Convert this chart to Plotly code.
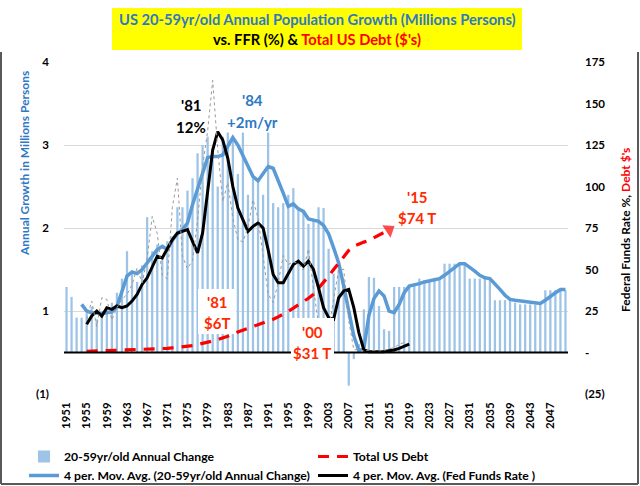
import plotly.graph_objects as go

# ---------------- data ----------------
years = list(range(1951, 2051))

# 20-59yr/old annual change (millions, in the left-axis label units)
pop_change = [
    1.29, 1.17, 0.92, 0.92, 0.98, 1.05, 0.90, 0.95, 1.02, 1.10,   # 1951-1960
    1.22, 1.39, 1.72, 1.45, 1.35, 1.55, 2.13, 1.72, 1.80, 1.65,   # 1961-1970
    1.84, 1.90, 2.25, 2.25, 2.45, 2.60, 2.90, 3.00, 3.10, 2.95,   # 1971-1980
    2.50, 3.10, 3.15, 3.10, 2.65, 3.15, 2.40, 2.60, 2.60, 2.40,   # 1981-1990
    3.15, 2.30, 2.25, 2.30, 2.40, 2.48, 2.25, 2.20, 2.05, 2.10,   # 1991-2000
    2.25, 2.24, 1.75, 1.45, 1.50, 1.30, 0.10, 0.42, 0.60, 1.02,   # 2001-2010
    1.41, 1.40, 1.06, 0.78, 0.76, 1.29, 1.29, 1.29, 1.29, 1.30,   # 2011-2020
    1.39, 1.37, 1.37, 1.40, 1.40, 1.57, 1.57, 1.57, 1.57, 1.57,   # 2021-2030
    1.39, 1.39, 1.39, 1.39, 1.39, 1.13, 1.13, 1.13, 1.13, 1.10,   # 2031-2040
    1.08, 1.08, 1.08, 1.08, 1.08, 1.25, 1.25, 1.25, 1.25, 1.25,   # 2041-2050
]

# 4 per. moving average of the annual change
ma_years = list(range(1954, 2051))
pop_ma = [
    1.08, 1.00, 0.98, 0.97, 0.97, 0.98, 0.99,                     # 1954-1960
    1.05, 1.25, 1.42, 1.47, 1.45, 1.50, 1.58, 1.66, 1.74, 1.78,   # 1961-1970
    1.74, 1.85, 1.93, 1.98, 2.06, 2.28, 2.48, 2.68, 2.85, 2.86,   # 1971-1980
    2.86, 2.88, 2.98, 3.09, 3.00, 2.88, 2.76, 2.62, 2.57, 2.66,   # 1981-1990
    2.74, 2.72, 2.58, 2.42, 2.26, 2.29, 2.23, 2.20, 2.11, 2.09,   # 1991-2000
    2.08, 2.03, 1.93, 1.76, 1.58, 1.30, 0.98, 0.70, 0.52, 0.55,   # 2001-2010
    0.95, 1.15, 1.24, 1.18, 1.00, 0.98, 1.08, 1.22, 1.30, 1.31,   # 2011-2020
    1.33, 1.35, 1.36, 1.38, 1.39, 1.43, 1.48, 1.53, 1.57, 1.57,   # 2021-2030
    1.53, 1.48, 1.43, 1.40, 1.39, 1.33, 1.26, 1.19, 1.14, 1.13,   # 2031-2040
    1.12, 1.11, 1.10, 1.09, 1.09, 1.13, 1.18, 1.22, 1.26, 1.26,   # 2041-2050
]

# Fed funds rate (x10, right axis) - thin grey line
ffr_years = list(range(1955, 2019))
ffr = [
    20, 31, 15.7, 33, 32, 19.5,                                   # 1955-1960
    27, 32, 35, 40.7, 51, 42, 56.6, 82, 71.7, 46.7,               # 1961-1970
    44.4, 87.4, 105, 58, 50.5, 55.4, 79.4, 112, 133.5, 163.9,     # 1971-1980
    122.4, 90.9, 102.3, 81, 68, 66.6, 75.7, 92.1, 81, 56.9,       # 1981-1990
    35.2, 30.2, 42, 58.4, 53, 54.6, 53.5, 49.7, 62.4, 38.8,       # 1991-2000
    16.7, 11.3, 13.5, 32.2, 49.7, 50.2, 19.2, 1.6, 1.8, 1.0,      # 2001-2010
    1.4, 1.1, 0.9, 1.3, 2.0, 3.0, 5.0, 6.0,                       # 2011-2018
]

# 4 per. moving average of the fed funds rate (black line)
ffr_ma_years = list(range(1955, 2020))
ffr_ma = [
    17, 22, 25, 22, 27, 26,                                       # 1955-1960
    28, 27, 28, 31, 35, 41, 45, 52, 58, 57,                       # 1961-1970
    63, 68, 72, 73, 74, 67, 60, 72, 96, 122,                      # 1971-1980
    133, 128, 117, 100, 87, 80, 73, 76, 78, 75,                   # 1981-1990
    62, 47, 42, 42, 48, 53, 55, 52, 55, 50,                       # 1991-2000
    39, 27, 21, 20, 33, 37, 38, 27, 12, 1.5,                      # 2001-2010
    0.5, 0.5, 0.5, 0.5, 1.0, 1.5, 2.5, 3.8, 5.0,                  # 2011-2019
]

# Total US debt ($ trillions, right axis)
debt_years = list(range(1955, 2016))
debt = [
    0.7, 0.8, 0.85, 0.9, 1.0, 1.05,                               # 1955-1960
    1.1, 1.2, 1.3, 1.4, 1.5, 1.6, 1.7, 1.9, 2.1, 2.3,             # 1961-1970
    2.5, 2.8, 3.1, 3.4, 3.8, 4.2, 4.8, 5.4, 6.1, 6.9,             # 1971-1980
    7.8, 8.7, 9.8, 11.2, 12.5, 13.6, 14.6, 15.6, 16.6, 17.7,      # 1981-1990
    18.8, 20.0, 21.5, 23.0, 24.8, 26.7, 28.6, 30.6, 32.7, 35.0,   # 1991-2000
    38.5, 42.0, 46.0, 50.0, 54.0, 58.0, 61.5, 64.0, 65.5, 66.5,   # 2001-2010
    67.5, 69.0, 70.5, 72.0, 74.0,                                 # 2011-2015
]

x_ticks = list(range(1951, 2048, 4))
left_ticks = [0, 1, 2, 3, 4]
left_tick_text = ["(1)", "1", "2", "3", "4"]
right_ticks = [-25, 0, 25, 50, 75, 100, 125, 150, 175]
right_tick_text = ["(25)", "-", "25", "50", "75", "100", "125", "150", "175"]

# ---------------- figure ----------------
W, H = 640, 486
ML, MR, MT, MB = 64, 72, 62, 92
PW, PH = W - ML - MR, H - MT - MB
FONT = "Lato, 'Open Sans', sans-serif"
BLUE_TXT = "#2F79C4"
RED_TXT = "#FF2A00"
BASE = 0.5  # left-axis value of the category axis line


def px(xf):
    return (xf - ML) / PW


def py(yf):
    return (H - MB - yf) / PH


fig = go.Figure()

fig.add_trace(go.Bar(
    x=years, y=[v - BASE for v in pop_change], base=BASE,
    width=0.45, marker=dict(color="#9DC3E6", line=dict(width=0)),
    name="20-59yr/old Annual Change", yaxis="y", legend="legend",
    hoverinfo="skip",
))

fig.add_trace(go.Scatter(
    x=ma_years, y=pop_ma, mode="lines", yaxis="y", legend="legend",
    line=dict(color="#5B9BD5", width=3.5),
    name="4 per. Mov. Avg. (20-59yr/old Annual Change)",
))

fig.add_trace(go.Scatter(
    x=debt_years, y=debt, mode="lines", yaxis="y2", legend="legend2",
    line=dict(color="#FF0000", width=3.2, dash="11px,8px"),
    name="Total US Debt",
))

fig.add_trace(go.Scatter(
    x=ffr_ma_years, y=ffr_ma, mode="lines", yaxis="y2", legend="legend2",
    line=dict(color="#000000", width=3),
    name="4 per. Mov. Avg. (Fed Funds Rate )",
))

fig.add_trace(go.Scatter(
    x=ffr_years, y=ffr, mode="lines", yaxis="y2",
    line=dict(color="#9A9A9A", width=1, dash="dot"),
    name="Fed Funds Rate", showlegend=False,
))

# arrow head at the end of the debt line
fig.add_trace(go.Scatter(
    x=debt_years[-2:], y=debt[-2:], mode="markers", yaxis="y2",
    marker=dict(symbol="triangle-up", size=[0, 13], color="#FF0000",
                angleref="previous", line=dict(width=0)),
    showlegend=False, hoverinfo="skip",
))

shapes = []
# category axis line (at 0 on the right axis)
shapes.append(dict(type="line", xref="paper", yref="y2", x0=0, x1=1, y0=0, y1=0,
                   line=dict(color="black", width=2), layer="above"))
# white label boxes
shapes.append(dict(type="rect", xref="paper", yref="paper",
                   x0=px(198), x1=px(236), y0=py(334), y1=py(289),
                   fillcolor="white", line=dict(width=0), layer="above"))
shapes.append(dict(type="rect", xref="paper", yref="paper",
                   x0=px(291), x1=px(334), y0=py(363), y1=py(318),
                   fillcolor="white", line=dict(width=0), layer="above"))
# title box
shapes.append(dict(type="rect", xref="paper", yref="paper",
                   x0=px(112), x1=px(522), y0=py(50), y1=py(8),
                   fillcolor="#FFFF00", line=dict(width=0), layer="above"))
# chart frame
for (x0, y0, x1, y1) in [(1, 52, 1, 484), (638, 52, 638, 484), (1, 484, 638, 484)]:
    shapes.append(dict(type="line", xref="paper", yref="paper",
                       x0=px(x0), x1=px(x1), y0=py(y0), y1=py(y1),
                       line=dict(color="#595959", width=2), layer="above"))

annotations = []


def note(text, xf, yf, color, size=15, **kw):
    annotations.append(dict(text=text, xref="paper", yref="paper", x=px(xf), y=py(yf),
                            showarrow=False, xanchor="center", yanchor="middle",
                            font=dict(family=FONT, size=size, color=color, weight="bold"), **kw))


note("US 20-59yr/old Annual Population Growth (Millions Persons)", 317, 19, BLUE_TXT, size=14.7)
note("vs. FFR (%) &amp; <span style='color:#FF0000'>Total US Debt ($'s)</span>", 317, 39, "black", size=14.7)

note("'81", 191, 105, "black")
note("12%", 191, 127, "black")
note("'84", 252, 100, BLUE_TXT)
note("+2m/yr", 252, 122, BLUE_TXT)
note("'81", 217, 302, RED_TXT)
note("$6T", 217, 323, RED_TXT)
note("'00", 312, 332, RED_TXT)
note("$31 T", 312, 353, RED_TXT)
note("'15", 417, 197, RED_TXT)
note("$74 T", 417, 218, RED_TXT)

note("Annual Growth in Millions Persons", 24, 164, BLUE_TXT, size=12, textangle=-90)
note("Federal Funds Rate %, <span style='color:#FF0000'>Debt $'s</span>", 625, 230, "black",
     size=12, textangle=-90)

tickfont = dict(family=FONT, size=11.5, color="black", weight="bold")
legfont = dict(family=FONT, size=12.2, color="black", weight="bold")

fig.update_layout(
    width=W, height=H, autosize=False,
    margin=dict(l=ML, r=MR, t=MT, b=MB, pad=0, autoexpand=False),
    paper_bgcolor="white", plot_bgcolor="white",
    font=dict(family=FONT, color="black"),
    barmode="overlay",
    xaxis=dict(range=[1950.5, 2050.5], tickvals=x_ticks, ticktext=[str(t) for t in x_ticks],
               tickangle=-90, tickfont=tickfont, showgrid=False, zeroline=False,
               showline=False, ticks="", ticklabelstandoff=5, automargin=False),
    yaxis=dict(range=[0, 4], tickvals=left_ticks, ticktext=left_tick_text,
               tickfont=tickfont, showgrid=True, gridcolor="#D9D9D9", gridwidth=1,
               zeroline=False, showline=False, ticks="", ticklabelstandoff=14,
               automargin=False),
    yaxis2=dict(range=[-25, 175], tickvals=right_ticks, ticktext=right_tick_text,
                overlaying="y", side="right", tickfont=tickfont, showgrid=False,
                zeroline=False, showline=False, ticks="", ticklabelstandoff=16,
                automargin=False),
    legend=dict(orientation="v", x=px(24), y=py(442), xanchor="left", yanchor="top",
                font=legfont, traceorder="normal", bgcolor="rgba(0,0,0,0)",
                itemwidth=30, tracegroupgap=0),
    legend2=dict(orientation="v", x=px(313), y=py(442), xanchor="left", yanchor="top",
                 font=legfont, traceorder="normal", bgcolor="rgba(0,0,0,0)",
                 itemwidth=30, tracegroupgap=0),
    shapes=shapes,
    annotations=annotations,
    showlegend=True,
    hovermode=False,
)

fig.write_html("out.html", config={"displayModeBar": False},
               post_script="document.body.style.margin='0px';")
